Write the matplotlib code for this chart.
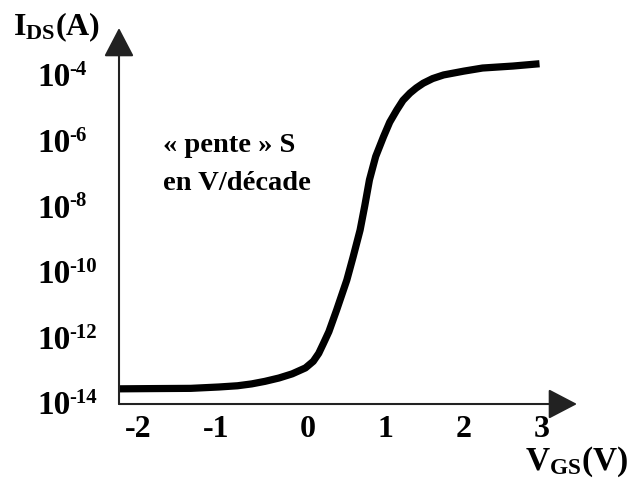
import matplotlib
matplotlib.use("Agg")
import matplotlib.pyplot as plt

plt.rcParams["font.family"] = ["Liberation Serif", "DejaVu Serif"]
plt.rcParams["font.weight"] = "bold"
plt.rcParams["mathtext.fontset"] = "custom"
plt.rcParams["mathtext.rm"] = "Liberation Serif:bold"
plt.rcParams["mathtext.it"] = "Liberation Serif:bold"
plt.rcParams["mathtext.bf"] = "Liberation Serif:bold"

# transfer characteristic
vgs = [-2.42, -2.0, -1.5, -1.14, -0.9, -0.72, -0.55, -0.37, -0.2, -0.03,
       0.07, 0.14, 0.2, 0.27, 0.37, 0.50, 0.58, 0.67, 0.73, 0.79, 0.87,
       0.97, 1.05, 1.14, 1.22, 1.31, 1.39, 1.48, 1.6, 1.74, 2.0, 2.24,
       2.63, 2.97]
ids = [2.9e-14, 2.95e-14, 3.0e-14, 3.3e-14, 3.6e-14, 4.1e-14, 4.9e-14,
       6.2e-14, 8.3e-14, 1.26e-13, 2.0e-13, 3.5e-13, 7.0e-13, 1.6e-12,
       7.4e-12, 6.0e-11, 3.0e-10, 2.0e-9, 1.1e-8, 6.8e-8, 3.5e-7, 1.4e-6,
       3.9e-6, 9.1e-6, 1.8e-5, 3.0e-5, 4.3e-5, 6.0e-5, 8.3e-5, 1.07e-4,
       1.4e-4, 1.74e-4, 2.0e-4, 2.35e-4]

xticks = [-2, -1, 0, 1, 2, 3]
xtick_labels = ["-2", "-1", "0", "1", "2", "3"]
ytick_exps = [-4, -6, -8, -10, -12, -14]

fig = plt.figure(figsize=(6.29, 4.78), dpi=100)
ax = fig.add_axes([0.1892, 0.1548, 0.7281, 0.7866])
ax.set_yscale("log")
ax.set_xlim(-2.42, 3.45)
ax.set_ylim(1e-14, 10 ** -2.54)

for s in ax.spines.values():
    s.set_visible(False)

ax.plot(vgs, ids, color="black", lw=5.2, solid_capstyle="butt",
        solid_joinstyle="round", clip_on=False)

# axes with arrow heads
arrow = dict(arrowstyle="-|>,head_length=0.9,head_width=0.47",
             mutation_scale=20, lw=1.5, color="#222222",
             shrinkA=0, shrinkB=0)
ax.annotate("", xy=(1, 0), xytext=(0, 0), xycoords="axes fraction",
            arrowprops=arrow)
ax.annotate("", xy=(0, 1), xytext=(0, 0), xycoords="axes fraction",
            arrowprops=arrow)

# x ticks
ax.set_xticks(xticks)
ax.set_xticklabels(xtick_labels, fontsize=23, fontweight="bold")
ax.tick_params(axis="x", length=0, pad=8)
for lab, v in zip(ax.get_xticklabels(), xticks):
    if v < 0:
        lab.set_horizontalalignment("right")

# y ticks drawn as 10 + superscript
ax.set_yticks([])
ax.minorticks_off()
ytrans = ax.get_yaxis_transform()
for e in ytick_exps:
    ax.annotate("10", xy=(0, 10.0 ** e), xycoords=ytrans,
                xytext=(-59, -7.5), textcoords="offset points",
                ha="left", va="baseline", fontsize=24, fontweight="bold")
    ax.annotate(str(e), xy=(0, 10.0 ** e), xycoords=ytrans,
                xytext=(-35.5, 0.5), textcoords="offset points",
                ha="left", va="baseline", fontsize=15, fontweight="bold")

# axis titles
ax.annotate(r"$\mathrm{I_{DS}(A)}$", xy=(0, 1), xycoords="axes fraction",
            xytext=(-76, -5), textcoords="offset points",
            ha="left", va="baseline", fontsize=23)
ax.annotate(r"$\mathrm{V_{GS}(V)}$", xy=(1, 0), xycoords="axes fraction",
            xytext=(37, -47.5), textcoords="offset points",
            ha="right", va="baseline", fontsize=24)

# slope annotation
ax.text(0.096, 0.670, "« pente » S", transform=ax.transAxes,
        ha="left", va="baseline", fontsize=20.5, fontweight="bold")
ax.text(0.096, 0.569, "en V/décade", transform=ax.transAxes,
        ha="left", va="baseline", fontsize=20.5, fontweight="bold")

fig.savefig("out.png", dpi=100)
